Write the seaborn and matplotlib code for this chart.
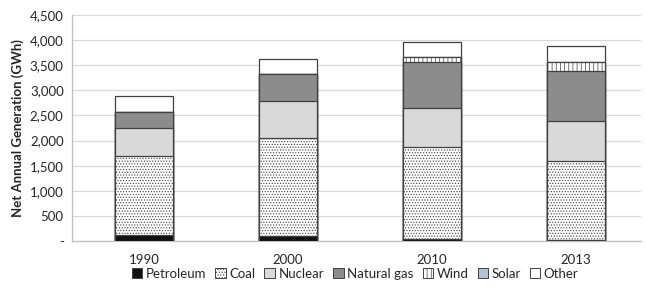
import numpy as np
import pandas as pd
import seaborn as sns
import matplotlib
matplotlib.use("Agg")
import matplotlib.pyplot as plt
from matplotlib.patches import Patch
from matplotlib.ticker import FuncFormatter

# data (GWh)
years = ["1990", "2000", "2010", "2013"]
sources = ["Petroleum", "Coal", "Nuclear", "Natural gas", "Wind", "Solar", "Other"]
petroleum = [125, 105, 37, 27]
coal = [1570, 1941, 1825, 1565]
nuclear = [550, 744, 796, 797]
natural_gas = [322, 526, 902, 1000]
wind = [0, 5, 96, 168]
solar = [0, 0, 2, 9]
other = [322, 311, 297, 316]

values = [petroleum, coal, nuclear, natural_gas, wind, solar, other]
face = ["#111111", "white", "#d9d9d9", "#8c8c8c", "white", "#b4c2d8", "white"]
hatch = [None, "......", None, None, "||||", None, None]

sns.set_theme(style="white")
plt.rcParams["font.family"] = ["Lato", "DejaVu Sans"]
plt.rcParams["hatch.linewidth"] = 0.5
plt.rcParams["hatch.color"] = "#555555"

df = pd.DataFrame(values, index=sources, columns=years).T
cum = df.cumsum(axis=1)

fig = plt.figure(figsize=(6.46, 2.88), dpi=100)
ax = fig.add_axes([72 / 646, 1 - 241 / 288, (641 - 72) / 646, (241 - 15) / 288])

# draw from the top layer down so lower layers cover the taller ones
for i in range(len(sources) - 1, -1, -1):
    d = pd.DataFrame({"year": years, "val": cum[sources[i]].values})
    sns.barplot(data=d, x="year", y="val", ax=ax, color=face[i], width=0.4,
                edgecolor="#404040", linewidth=0.9, hatch=hatch[i],
                saturation=1, zorder=3)

ax.set_xlim(-0.5, 3.45)
ax.set_ylim(0, 4500)
ax.set_yticks(np.arange(0, 4501, 500))
ax.yaxis.set_major_formatter(FuncFormatter(lambda v, p: "-" if v == 0 else f"{int(v):,}"))
ax.grid(axis="y", color="#d9d9d9", linewidth=0.9, zorder=0)
ax.set_axisbelow(True)
for s in ["top", "right"]:
    ax.spines[s].set_visible(False)
for s in ["left", "bottom"]:
    ax.spines[s].set_color("#bfbfbf")
    ax.spines[s].set_linewidth(0.9)
ax.tick_params(axis="both", labelsize=9.5, colors="#262626", length=0)
ax.tick_params(axis="y", pad=6)
ax.tick_params(axis="x", pad=9)
ax.set_xlabel("")
ax.set_ylabel("Net Annual Generation (GWh)", fontsize=9.5, fontweight="bold", color="#262626")

handles = [Patch(facecolor=face[i], edgecolor="#404040", hatch=hatch[i], linewidth=0.7,
                 label=sources[i]) for i in range(len(sources))]
fig.legend(handles=handles, loc="center", bbox_to_anchor=(355 / 646, 1 - 274 / 288),
           ncol=7, frameon=False, fontsize=9.5, handlelength=0.8, handleheight=0.8,
           handletextpad=0.25, columnspacing=0.7, borderaxespad=0)

fig.savefig("out.png", dpi=100)
